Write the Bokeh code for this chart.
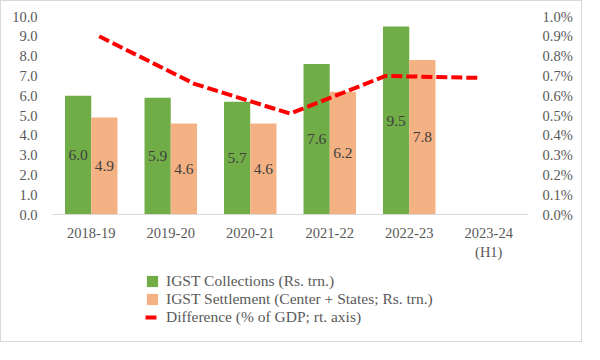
from bokeh.plotting import figure
from bokeh.models import (ColumnDataSource, FactorRange, Range1d, LinearAxis,
                          NumeralTickFormatter, FixedTicker, Legend, LegendItem)
from bokeh.transform import dodge
from bokeh.core.properties import value
from bokeh.embed import file_html
from bokeh.resources import INLINE

# ---- data ----
years = ["2018-19", "2019-20", "2020-21", "2021-22", "2022-23", "2023-24\n(H1)"]
bar_years = ["2018-19", "2019-20", "2020-21", "2021-22", "2022-23"]
igst_collections = [6.0, 5.9, 5.7, 7.6, 9.5]
igst_settlement = [4.9, 4.6, 4.6, 6.2, 7.8]
line_periods = ["2018-19", "2019-20", "2020-21", "2021-22", "2022-23"]
difference_pct_gdp = [0.0090, 0.0066, 0.0051, 0.0070, 0.0069]
left_ticks = [0, 1, 2, 3, 4, 5, 6, 7, 8, 9, 10]
right_ticks = [0.0, 0.001, 0.002, 0.003, 0.004, 0.005, 0.006, 0.007, 0.008, 0.009, 0.010]

FONT = "Liberation Serif"
GREEN = "#70AD47"
ORANGE = "#F4B183"
RED = "#FF0000"
TICK_GRAY = "#595959"

# room below zero (inside the frame) for the category labels and legend
BELOW = 0.65
y_max = left_ticks[-1]
y2_max = right_ticks[-1]

bars = ColumnDataSource(dict(
    year=bar_years,
    coll=igst_collections,
    sett=igst_settlement,
    coll_mid=[v / 2 for v in igst_collections],
    sett_mid=[v / 2 for v in igst_settlement],
    coll_lbl=[f"{v:.1f}" for v in igst_collections],
    sett_lbl=[f"{v:.1f}" for v in igst_settlement],
))
line_src = ColumnDataSource(dict(period=line_periods, diff=difference_pct_gdp))

p = figure(x_range=FactorRange(*years), y_range=Range1d(-BELOW * y_max, y_max),
           width=582, height=342, output_backend="svg", toolbar_location=None,
           min_border_left=50, min_border_right=55, min_border_top=15, min_border_bottom=0)
p.styles = {"border": "1px solid #D9D9D9"}
p.outline_line_color = None
p.xgrid.grid_line_color = None
p.ygrid.grid_line_color = None

p.extra_y_ranges = {"pct": Range1d(-BELOW * y2_max, y2_max)}
p.extra_x_ranges = {"line_x": FactorRange(*line_periods)}

r_coll = p.vbar(x=dodge("year", -0.165, range=p.x_range), top="coll", width=0.33,
                source=bars, fill_color=GREEN, line_color=None)
r_sett = p.vbar(x=dodge("year", 0.165, range=p.x_range), top="sett", width=0.33,
                source=bars, fill_color=ORANGE, line_color=None)

p.text(x=dodge("year", -0.165, range=p.x_range), y="coll_mid", text="coll_lbl", source=bars,
       text_font=value(FONT), text_font_size="15.5px", text_color="#404040",
       text_align="center", text_baseline="middle")
p.text(x=dodge("year", 0.165, range=p.x_range), y="sett_mid", text="sett_lbl", source=bars,
       text_font=value(FONT), text_font_size="15.5px", text_color="#404040",
       text_align="center", text_baseline="middle")

r_line = p.line(x="period", y="diff", source=line_src, x_range_name="line_x", y_range_name="pct",
                line_color=RED, line_width=4, line_dash="11 4")

# axes
left = p.yaxis[0]
left.ticker = FixedTicker(ticks=left_ticks)
left.formatter = NumeralTickFormatter(format="0.0")
right = LinearAxis(y_range_name="pct", ticker=FixedTicker(ticks=right_ticks),
                   formatter=NumeralTickFormatter(format="0.0%"))
p.add_layout(right, "right")

for ax in (left, right):
    ax.axis_line_color = None
    ax.major_tick_line_color = None
    ax.minor_tick_line_color = None
    ax.major_label_text_font = FONT
    ax.major_label_text_font_size = "14.5px"
    ax.major_label_text_color = TICK_GRAY
    ax.major_label_standoff = 8

bx = p.xaxis[0]
bx.fixed_location = 0
bx.axis_line_color = "#D9D9D9"
bx.axis_line_width = 1
bx.major_tick_line_color = None
bx.minor_tick_line_color = None
bx.major_label_text_font = FONT
bx.major_label_text_font_size = "14.5px"
bx.major_label_text_color = TICK_GRAY
bx.major_label_standoff = 4

legend = Legend(items=[
    LegendItem(label="IGST Collections (Rs. trn.)", renderers=[r_coll]),
    LegendItem(label="IGST Settlement (Center + States; Rs. trn.)", renderers=[r_sett]),
    LegendItem(label="Difference (% of GDP; rt. axis)", renderers=[r_line]),
], location=(94, 17), orientation="vertical",
    label_text_font=FONT, label_text_font_size="15.5px", label_text_color=TICK_GRAY,
    glyph_width=14, glyph_height=14, label_height=17, spacing=0, padding=0, margin=0,
    label_standoff=7, border_line_color=None, background_fill_alpha=0)
p.add_layout(legend)

open("out.html", "w").write(file_html(p, INLINE))
